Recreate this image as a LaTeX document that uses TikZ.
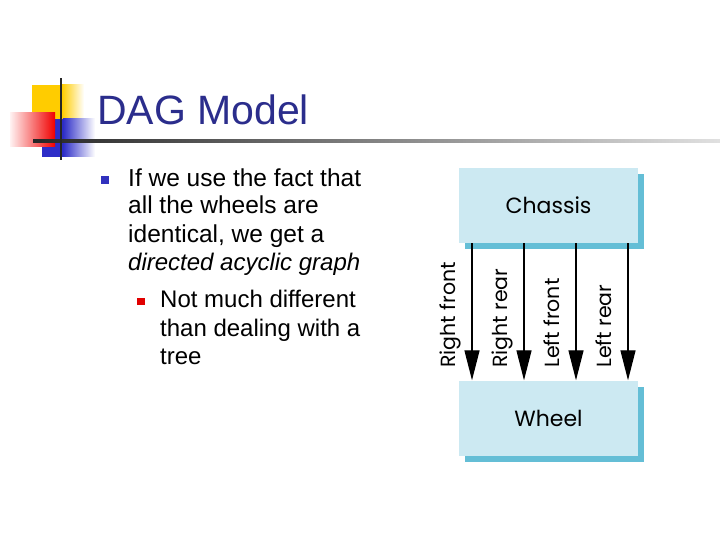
\documentclass[tikz,border=0pt]{standalone}
\usepackage{fontspec}
\setmainfont{Liberation Sans}
\newfontfamily\geofont{Poppins}
\usetikzlibrary{arrows.meta,shadows}
\definecolor{titleblue}{RGB}{43,45,140}
\definecolor{decoyellow}{RGB}{255,204,0}
\definecolor{decoblue}{RGB}{45,45,200}
\definecolor{decored}{RGB}{240,0,0}
\definecolor{boxfill}{RGB}{204,233,242}
\definecolor{boxshadow}{RGB}{100,190,214}
\definecolor{bulletblue}{RGB}{50,50,190}
\definecolor{bulletred}{RGB}{225,0,0}
\tikzset{
  bodytext/.style={anchor=base west,inner sep=0pt,font=\fontsize{24.5}{28}\selectfont},
  subtext/.style={anchor=base west,inner sep=0pt,font=\fontsize{24}{28}\selectfont},
  diagbox/.style={draw=none,fill=boxfill,minimum width=179pt,minimum height=75pt,inner sep=0pt,
    font=\geofont\fontsize{22}{24}\selectfont,
    drop shadow={shadow xshift=6pt,shadow yshift=-6pt,fill=boxshadow,opacity=1}},
  arr/.style={line width=1.3pt,-{Triangle[width=15pt,length=30pt]}},
  edgelabel/.style={rotate=90,anchor=base west,inner sep=0pt,font=\geofont\fontsize{20.5}{22}\selectfont}
}
\begin{document}
\begin{tikzpicture}[x=1pt,y=-1pt]
\useasboundingbox (0,0) rectangle (720,540);
\fill[white] (0,0) rectangle (720,540);
% decoration
\fill[decoyellow] (32,85) rectangle (62,119);
\shade[left color=decoyellow,right color=white] (62,85) rectangle (84,119);
\fill[decoblue] (42,119) rectangle (63,157);
\shade[left color=decoblue,right color=white] (63,119) rectangle (95,157);
\shade[left color=red!5,right color=decored] (10,113) rectangle (55,147);
\shade[left color=black!85,right color=black!12] (33,140) rectangle (720,142.2);
\fill[black!85] (60,78) rectangle (62.2,160);
% title
\node[anchor=base west,inner sep=0pt,text=titleblue,font=\fontsize{41}{44}\selectfont] (title) at (97,125) {DAG Model};
% bullets
\fill[bulletblue] (101,176) rectangle (109,184);
\node[bodytext] (l1) at (128,187) {If we use the fact that};
\node[bodytext] (l2) at (128,214) {all the wheels are};
\node[bodytext] (l3) at (128,242) {identical, we get a};
\node[bodytext,font=\itshape\fontsize{24}{28}\selectfont] (l4) at (128,270) {directed acyclic graph};
\fill[bulletred] (137,298) rectangle (145,305);
\node[subtext] (s1) at (160,307) {Not much different};
\node[subtext] (s2) at (160,336) {than dealing with a};
\node[subtext] (s3) at (160,364) {tree};
% diagram
\node[diagbox] (chassis) at (548.5,205.5) {Chassis};
\node[diagbox] (wheel) at (548.5,418) {Wheel};
\draw[arr] ([xshift=-76.5pt]chassis.south) -- ([xshift=-76.5pt]wheel.north);
\draw[arr] ([xshift=-24.5pt]chassis.south) -- ([xshift=-24.5pt]wheel.north);
\draw[arr] ([xshift=27.5pt]chassis.south) -- ([xshift=27.5pt]wheel.north);
\draw[arr] ([xshift=79.5pt]chassis.south) -- ([xshift=79.5pt]wheel.north);
\node[edgelabel] (lrf) at (455,368) {Right front};
\node[edgelabel] (lrr) at (507,368) {Right rear};
\node[edgelabel] (llf) at (559,368) {Left front};
\node[edgelabel] (llr) at (611,368) {Left rear};
\end{tikzpicture}
\end{document}
